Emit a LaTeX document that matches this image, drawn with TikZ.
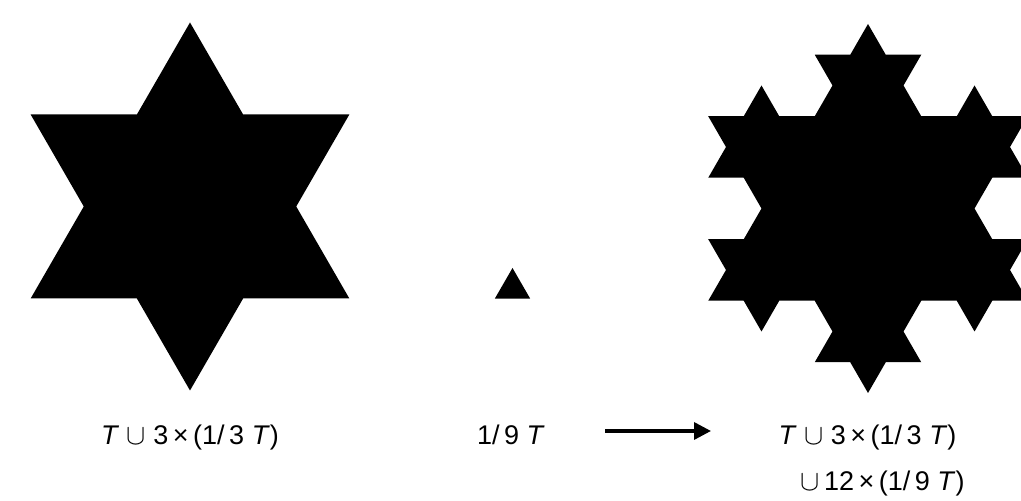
\documentclass[tikz,border=0pt]{standalone}
\usepackage{fontspec}
\setmainfont{Liberation Sans}
\usetikzlibrary{arrows.meta, calc}

% one equilateral triangle as a subpath: centre, offset, circumradius, turn
\newcommand{\kochtri}[4]{%
  ($(#1)+(#2)+(#4+90:#3)$) -- ($(#1)+(#2)+(#4+210:#3)$)
  -- ($(#1)+(#2)+(#4+330:#3)$) -- cycle }

\begin{document}
\begin{tikzpicture}[x=0.5pt, y=0.5pt,
    lbl/.style={inner sep=0pt, font=\fontsize{13.5}{16}\selectfont},
    fatarrow/.style={line width=1.7pt, -{Triangle[length=8.5pt, width=8.5pt]}}]
  \useasboundingbox (0,0) rectangle (1021,501);

  % centres of the three figures
  \coordinate (starc)  at (190,294.5);
  \coordinate (ninthc) at (512.5,212.6);
  \coordinate (snowc)  at (868,292.5);

  % T u 3 x (1/3 T)
  \fill \kochtri{starc}{0:0}{184}{0}
        \foreach \a in {30,150,270}{ \kochtri{starc}{\a:122.67}{61.33}{180} };

  % 1/9 T on its own
  \fill \kochtri{ninthc}{0:0}{20.4}{0};

  % T u 3 x (1/3 T) u 12 x (1/9 T)
  \fill \kochtri{snowc}{0:0}{184.5}{0}
        \foreach \a in {30,150,270}{ \kochtri{snowc}{\a:123}{61.5}{180} }
        \foreach \k in {0,...,5}{
          \foreach \d in {-13.898,13.898}{
            \kochtri{snowc}{90+60*\k+\d:147.83}{20.5}{180+60*\k} } };

  % labels
  \node[lbl, anchor=base] (starlbl) at (190,56)
    {\textit{T}\ $\cup$\ 3\,×\,(1/\,3\ \textit{T})};
  \node[lbl, anchor=base] (ninthlbl) at (511,56) {1/\,9\ \textit{T}};
  \node[lbl, anchor=base] (snowlbl) at (867.5,56)
    {\textit{T}\ $\cup$\ 3\,×\,(1/\,3\ \textit{T})};
  \node[lbl, anchor=base west] (snowlbltwo) at (800,10)
    {$\cup$\,12\,×\,(1/\,9\ \textit{T})};

  % arrow
  \coordinate (arrtail) at (605,70);
  \coordinate (arrtip)  at (711,70);
  \draw[fatarrow] (arrtail) -- (arrtip);
\end{tikzpicture}
\end{document}
